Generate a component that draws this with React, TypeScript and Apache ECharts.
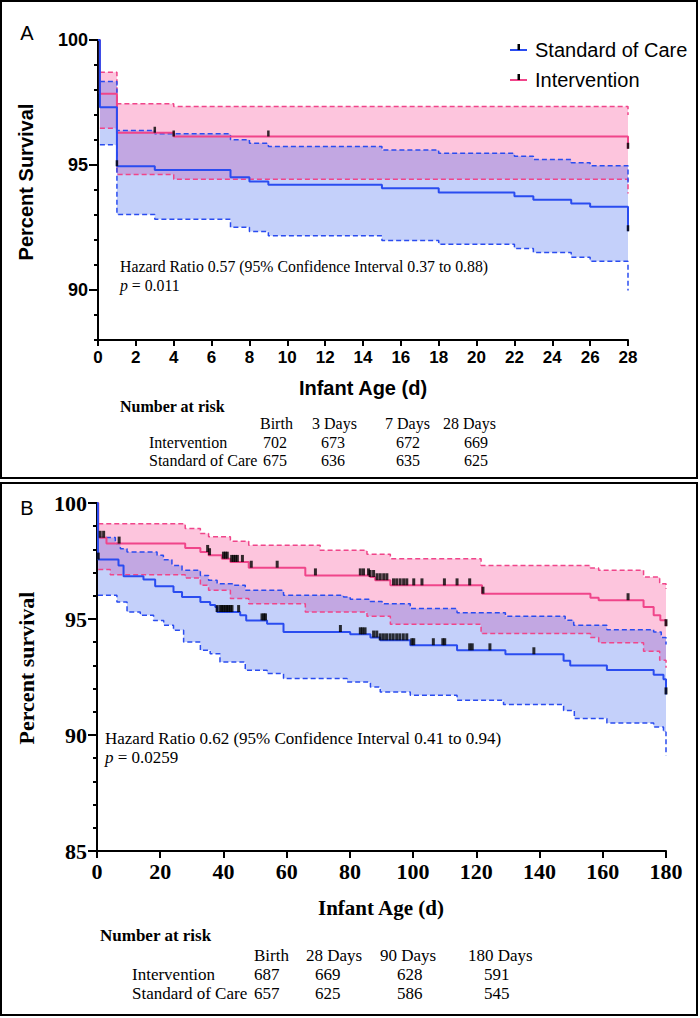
import React, { useEffect, useRef } from 'react';
import * as echarts from 'echarts';

// ---------- Panel A data (days 0-28) ----------
const aSocSurv = [[0, 100], [0.1, 97.31], [1, 94.95], [3, 94.8], [7, 94.51], [8, 94.34], [9, 94.21], [15, 94.07], [18, 93.9], [22, 93.75], [23, 93.61], [25, 93.46], [26, 93.33], [28, 92.35]];
const aSocUpper = [[0.1, 98.34], [1, 96.38], [3, 96.25], [7, 96.01], [8, 95.87], [9, 95.74], [15, 95.6], [18, 95.47], [22, 95.35], [23, 95.22], [25, 95.09], [26, 94.97], [28, 94.3]];
const aSocLower = [[0.1, 95.81], [1, 93.02], [3, 92.83], [7, 92.51], [8, 92.34], [9, 92.17], [15, 91.98], [18, 91.83], [22, 91.66], [23, 91.5], [25, 91.31], [26, 91.15], [28, 89.98]];
const aIntSurv = [[0, 100], [0.1, 97.85], [1, 96.29], [4, 96.14], [28, 95.65]];
const aIntUpper = [[0.1, 98.71], [1, 97.45], [4, 97.34], [28, 97.0]];
const aIntLower = [[0.1, 96.47], [1, 94.62], [4, 94.43], [28, 93.86]];
const aSocCensor = [1, 28];
const aIntCensor = [3, 4, 9, 28];

// ---------- Panel B data (days 0-180) ----------
const bSocSurv = [[0, 100], [0.3, 97.56], [6.8, 97.31], [8.4, 96.84], [14.7, 96.7], [18.4, 96.41], [24.2, 96.16], [26.9, 95.95], [32.7, 95.73], [35.8, 95.6], [37.4, 95.52], [38, 95.3], [45.3, 95.16], [47.2, 94.94], [53.8, 94.8], [59, 94.44], [80.1, 94.34], [86.5, 94.2], [89.6, 94.08], [99.1, 93.87], [113.9, 93.65], [129.2, 93.48], [147.6, 93.2], [149.7, 93.0], [161.3, 92.8], [176.1, 92.6], [179.2, 92.4], [180, 91.75]];
const bSocUpper = [[0.3, 98.51], [5.8, 98.25], [7.4, 98.03], [9.5, 97.89], [19, 97.75], [21, 97.55], [23.7, 97.31], [26.9, 97.1], [32.7, 96.88], [35.3, 96.67], [38, 96.52], [43.2, 96.45], [46.9, 96.24], [59, 96.02], [78, 95.95], [80.1, 95.85], [86.4, 95.75], [90.2, 95.66], [99.1, 95.45], [113.9, 95.27], [129.2, 95.12], [148.1, 94.95], [150.8, 94.73], [161.3, 94.54], [176.1, 94.44], [178.5, 94.2], [180, 93.9]];
const bSocLower = [[0.3, 96.02], [6.3, 95.73], [9.5, 95.3], [13.7, 95.16], [17.9, 94.94], [21.1, 94.73], [24.2, 94.51], [27.4, 94.01], [32.7, 93.65], [35.8, 93.5], [38.9, 93.15], [46.9, 92.79], [53.8, 92.65], [59, 92.43], [79.1, 92.28], [86.5, 92.07], [89.6, 91.85], [99.1, 91.71], [113.9, 91.5], [128.6, 91.32], [147.6, 91.06], [151, 90.71], [161.3, 90.52], [176.1, 90.34], [179.2, 90.13], [180, 89.12]];
const bIntSurv = [[0, 100], [0.4, 98.5], [3, 98.25], [27.9, 98.06], [32.7, 97.89], [35.3, 97.75], [39.5, 97.6], [42.2, 97.46], [48, 97.21], [65.9, 96.88], [86.4, 96.81], [88, 96.67], [92.8, 96.45], [121.8, 96.09], [156.1, 95.92], [158.7, 95.81], [172.9, 95.52], [176.1, 95.16], [178.2, 94.95], [180, 94.69]];
const bIntUpper = [[0.4, 99.11], [27.9, 98.9], [32.7, 98.68], [35.3, 98.54], [42.2, 98.35], [48, 98.18], [70.6, 97.96], [85.4, 97.79], [92.8, 97.6], [121.5, 97.31], [156.1, 97.2], [158.7, 97.1], [172.9, 96.81], [178, 96.52], [180, 96.3]];
const bIntLower = [[0.4, 97.13], [4.2, 96.91], [27.9, 96.77], [32.7, 96.45], [35.3, 96.24], [42.2, 95.88], [48, 95.66], [65.9, 95.3], [85.4, 95.12], [92.8, 94.77], [121.5, 94.37], [156.1, 94.2], [158.7, 93.98], [172.9, 93.61], [178, 93.22], [180, 92.9]];
const bSocCensor = [0.4, 38, 39, 39.5, 40, 40.6, 41.1, 41.6, 42.2, 42.7, 44.8, 52.2, 52.8, 53.3, 77, 83.3, 84, 84.8, 87.5, 88.5, 89.6, 90.6, 91.6, 92.7, 93.7, 94.8, 95.8, 96.9, 98, 99.6, 100.2, 106.4, 109.4, 110, 117.9, 118.7, 124.3, 138.2, 180];
const bIntCensor = [1, 2.1, 7, 35, 35.6, 40, 40.6, 41.2, 42.6, 43.2, 43.8, 44.4, 46, 48.8, 57, 69.1, 83.3, 84.3, 85.9, 86.4, 87.5, 88.6, 89.6, 90.7, 91.7, 93.8, 94.8, 95.9, 97, 98, 100.2, 102.8, 109.9, 113.9, 117.9, 122.1, 168, 180];

// ---------- Tick labels / table text ----------
const aYLabels = [90, 95, 100];
const bYLabels = [85, 90, 95, 100];
const legendNames = ['Standard of Care', 'Intervention'];
const aRiskHeaders = ['Birth', '3 Days', '7 Days', '28 Days'];
const aRiskInt = [702, 673, 672, 669];
const aRiskSoc = [675, 636, 635, 625];
const bRiskHeaders = ['Birth', '28 Days', '90 Days', '180 Days'];
const bRiskInt = [687, 669, 628, 591];
const bRiskSoc = [657, 625, 586, 545];
const rowNames = ['Intervention', 'Standard of Care'];
const aHazard = 'Hazard Ratio 0.57 (95% Confidence Interval 0.37 to 0.88)';
const aPValue = '0.011';
const bHazard = 'Hazard Ratio 0.62 (95% Confidence Interval 0.41 to 0.94)';
const bPValue = '0.0259';

const BLUE = '#2a4cf0';
const PINK = '#f0458a';
const SANS = '"Liberation Sans", Arial, Helvetica, sans-serif';
const SERIF = '"Liberation Serif", "Times New Roman", Times, serif';

function stepPts(c: number[][]) {
  const out: number[][] = [];
  for (let i = 0; i < c.length; i++) {
    if (i > 0) out.push([c[i][0], c[i - 1][1]]);
    out.push(c[i]);
  }
  return out;
}
function valueAt(c: number[][], t: number) {
  let v = c[0][1];
  for (const p of c) if (p[0] <= t) v = p[1];
  return v;
}

function band(upper: number[][], lower: number[][], fill: string, xi: number, yi: number) {
  const poly = [...stepPts(upper), ...stepPts(lower).reverse()];
  return {
    type: 'custom', xAxisIndex: xi, yAxisIndex: yi, silent: true, z: 1, clip: false,
    data: [[upper[0][0], upper[0][1]]],
    renderItem: (_p: any, api: any) => ({
      type: 'polygon',
      shape: { points: poly.map((p) => api.coord(p)) },
      style: { fill },
    }),
  };
}
function line(data: number[][], color: string, dashed: boolean, xi: number, yi: number) {
  return {
    type: 'line', xAxisIndex: xi, yAxisIndex: yi, data, step: 'end', symbol: 'none', silent: true,
    z: dashed ? 3 : 4,
    lineStyle: { color, width: dashed ? 1.5 : 2, type: dashed ? [5, 3] : 'solid' },
  };
}
function censor(times: number[], curve: number[][], xi: number, yi: number, size: number[]) {
  return {
    type: 'scatter', xAxisIndex: xi, yAxisIndex: yi, silent: true, z: 6,
    data: times.map((t) => [t, valueAt(curve, t)]),
    symbol: 'rect', symbolSize: size, symbolOffset: [0, -size[1] / 2],
    itemStyle: { color: '#000' },
  };
}

function txt(x: number, y: number, text: string, font: string, align = 'left', extra: any = {}) {
  return {
    type: 'text', x, y, silent: true, ...extra,
    style: { text, font, fill: '#000', align, verticalAlign: 'middle', textAlign: align, textVerticalAlign: 'middle' },
  };
}

export default function App() {
  const ref = useRef<HTMLDivElement>(null);
  useEffect(() => {
    if (!ref.current) return;
    const chart = echarts.init(ref.current, undefined, { renderer: 'svg' });
    const axisLineStyle = { color: '#000', width: 2 };

    const graphics: any[] = [
      { type: 'rect', shape: { x: 1, y: 1, width: 696, height: 477 }, style: { fill: 'none', stroke: '#000', lineWidth: 2 }, silent: true },
      { type: 'rect', shape: { x: 1, y: 483, width: 696, height: 532 }, style: { fill: 'none', stroke: '#000', lineWidth: 2 }, silent: true },
      txt(27, 33, 'A', `20px ${SANS}`, 'center'),
      txt(27, 508, 'B', `20px ${SANS}`, 'center'),
      txt(26, 182, 'Percent Survival', `bold 20px ${SANS}`, 'center', { rotation: Math.PI / 2 }),
      txt(26, 668, 'Percent survival', `bold 22px ${SERIF}`, 'center', { rotation: Math.PI / 2 }),
      txt(363, 388, 'Infant Age (d)', `bold 20px ${SANS}`, 'center'),
      txt(381, 908, 'Infant Age (d)', `bold 21px ${SERIF}`, 'center'),
      txt(120, 266, aHazard, `15.8px ${SERIF}`),
      txt(105, 738, bHazard, `17px ${SERIF}`),
      {
        type: 'text', x: 120, y: 285, silent: true,
        style: { text: `{i|p} = ${aPValue}`, font: `15.8px ${SERIF}`, fill: '#000', verticalAlign: 'middle', textVerticalAlign: 'middle', rich: { i: { fontStyle: 'italic', fontFamily: SERIF, fontSize: 15.8 } } },
      },
      {
        type: 'text', x: 105, y: 757, silent: true,
        style: { text: `{i|p} = ${bPValue}`, font: `17px ${SERIF}`, fill: '#000', verticalAlign: 'middle', textVerticalAlign: 'middle', rich: { i: { fontStyle: 'italic', fontFamily: SERIF, fontSize: 17 } } },
      },
    ];
    // legend (panel A)
    const legColors = [BLUE, PINK];
    legendNames.forEach((name, i) => {
      const y = 50 + i * 30;
      graphics.push({ type: 'line', shape: { x1: 510, y1: y, x2: 527, y2: y }, style: { stroke: legColors[i], lineWidth: 2 }, silent: true });
      graphics.push({ type: 'rect', shape: { x: 517.5, y: y - 6, width: 2.5, height: 6 }, style: { fill: '#000' }, silent: true });
      graphics.push(txt(535, y, name, `20px ${SANS}`));
    });
    // number-at-risk tables
    const tbl = (hdrs: string[], ri: number[], rs: number[], o: any) => {
      graphics.push(txt(o.nx, o.ny, 'Number at risk', `bold ${o.fs}px ${SERIF}`));
      hdrs.forEach((h, i) => graphics.push(txt(o.hx[i], o.hy, h, `${o.fs}px ${SERIF}`)));
      graphics.push(txt(o.lx, o.r1, rowNames[0], `${o.fs}px ${SERIF}`));
      graphics.push(txt(o.lx, o.r2, rowNames[1], `${o.fs}px ${SERIF}`));
      ri.forEach((v, i) => graphics.push(txt(o.vx[i], o.r1, String(v), `${o.fs}px ${SERIF}`)));
      rs.forEach((v, i) => graphics.push(txt(o.vx[i], o.r2, String(v), `${o.fs}px ${SERIF}`)));
    };
    tbl(aRiskHeaders, aRiskInt, aRiskSoc, { nx: 120, ny: 406, fs: 16, hx: [260, 312, 385, 443], hy: 423, lx: 149, r1: 442, r2: 460, vx: [263, 321, 396, 464] });
    tbl(bRiskHeaders, bRiskInt, bRiskSoc, { nx: 100, ny: 935, fs: 17, hx: [254, 306, 380, 468], hy: 955, lx: 132, r1: 974, r2: 993, vx: [254, 315, 397, 484] });

    const option: any = {
      animation: false,
      grid: [
        { left: 98, top: 40, width: 530, height: 300 },
        { left: 97, top: 503, width: 569, height: 348 },
      ],
      xAxis: [
        {
          type: 'value', gridIndex: 0, min: 0, max: 28, interval: 2,
          axisLine: { lineStyle: axisLineStyle }, axisTick: { length: 6, lineStyle: axisLineStyle },
          axisLabel: { fontSize: 17, fontWeight: 'bold', fontFamily: SANS, color: '#000', margin: 9 },
          splitLine: { show: false },
        },
        {
          type: 'value', gridIndex: 1, min: 0, max: 180, interval: 20,
          axisLine: { lineStyle: axisLineStyle }, axisTick: { length: 7, lineStyle: axisLineStyle },
          axisLabel: { fontSize: 22, fontWeight: 'bold', fontFamily: SERIF, color: '#000', margin: 9 },
          splitLine: { show: false },
        },
      ],
      yAxis: [
        {
          type: 'value', gridIndex: 0, min: 88, max: 100, interval: 1, position: 'left',
          axisLine: { show: true, lineStyle: axisLineStyle }, axisTick: { length: 4, lineStyle: axisLineStyle },
          axisLabel: { show: false }, splitLine: { show: false },
        },
        {
          type: 'value', gridIndex: 0, min: 88, max: 100, position: 'left',
          axisLine: { show: false },
          axisTick: { show: true, customValues: aYLabels, length: 9, lineStyle: axisLineStyle },
          axisLabel: { customValues: aYLabels, fontSize: 18, fontWeight: 'bold', fontFamily: SANS, color: '#000', margin: 10 },
          splitLine: { show: false },
        },
        {
          type: 'value', gridIndex: 1, min: 85, max: 100, interval: 5, position: 'left',
          axisLine: { show: true, lineStyle: axisLineStyle },
          axisTick: { length: 9, lineStyle: axisLineStyle },
          minorTick: { show: true, splitNumber: 5, length: 4, lineStyle: axisLineStyle },
          axisLabel: { customValues: bYLabels, fontSize: 22, fontWeight: 'bold', fontFamily: SERIF, color: '#000', margin: 10 },
          splitLine: { show: false },
        },
      ],
      graphic: graphics,
      series: [
        band(aIntUpper, aIntLower, 'rgba(250,110,170,0.4)', 0, 0),
        band(aSocUpper, aSocLower, 'rgba(60,100,240,0.3)', 0, 0),
        line(aIntUpper, PINK, true, 0, 0),
        line(aIntLower, PINK, true, 0, 0),
        line(aSocUpper, BLUE, true, 0, 0),
        line(aSocLower, BLUE, true, 0, 0),
        line(aIntSurv, PINK, false, 0, 0),
        line(aSocSurv, BLUE, false, 0, 0),
        censor(aIntCensor, aIntSurv, 0, 0, [2.5, 6]),
        censor(aSocCensor, aSocSurv, 0, 0, [2.5, 6]),
        band(bIntUpper, bIntLower, 'rgba(250,110,170,0.4)', 1, 2),
        band(bSocUpper, bSocLower, 'rgba(60,100,240,0.3)', 1, 2),
        line(bIntUpper, PINK, true, 1, 2),
        line(bIntLower, PINK, true, 1, 2),
        line(bSocUpper, BLUE, true, 1, 2),
        line(bSocLower, BLUE, true, 1, 2),
        line(bIntSurv, PINK, false, 1, 2),
        line(bSocSurv, BLUE, false, 1, 2),
        censor(bIntCensor, bIntSurv, 1, 2, [3, 7]),
        censor(bSocCensor, bSocSurv, 1, 2, [3, 7]),
      ],
    };
    chart.setOption(option);
    return () => chart.dispose();
  }, []);
  return <div ref={ref} style={{ position: 'absolute', left: 0, top: 0, width: 700, height: 1018 }} />;
}
